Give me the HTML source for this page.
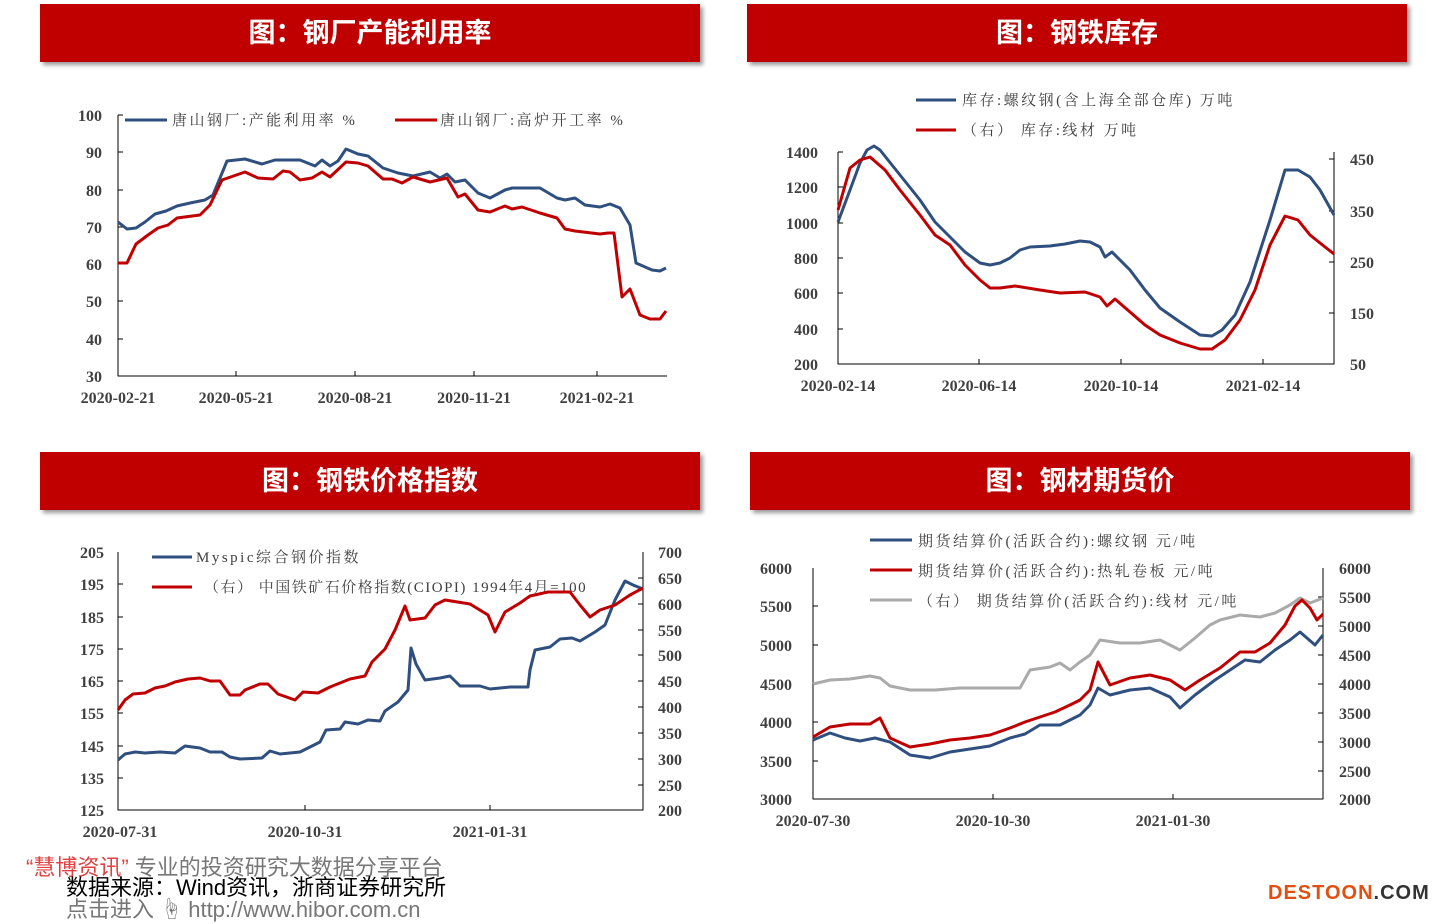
<!DOCTYPE html><html><head><meta charset="utf-8"><style>
body{margin:0;width:1440px;height:917px;background:#fff;position:relative;overflow:hidden;font-family:"Liberation Serif","Noto Serif CJK SC",serif}
.h{position:absolute;height:58px;background:#c00000;color:#fff;font:bold 27px "Liberation Sans","Noto Sans CJK SC",sans-serif;text-align:center;line-height:58px;box-shadow:3px 3px 4px #999}
svg{position:absolute;left:0;top:0}
text{font-family:"Liberation Serif","Noto Serif CJK SC",serif;fill:#404040}
.t text{font-weight:bold}
.lg text{letter-spacing:2.5px}
.f{position:absolute;font:22px "Liberation Sans","Noto Sans CJK SC",sans-serif;color:#000;white-space:nowrap}
</style></head><body>
<div class="h" style="left:40px;top:4px;width:660px">图：钢厂产能利用率</div>
<div class="h" style="left:747px;top:4px;width:660px">图：钢铁库存</div>
<div class="h" style="left:40px;top:452px;width:660px">图：钢铁价格指数</div>
<div class="h" style="left:750px;top:452px;width:660px">图：钢材期货价</div>
<svg width="1440" height="917" viewBox="0 0 1440 917" fill="none" stroke-width="3" stroke-linejoin="round">
<g stroke="#000" stroke-width="1">
<path d="M118 115V376H667M118 115h5M118 152h5M118 190h5M118 227h5M118 264h5M118 301h5M118 339h5M236 376v-5M355 376v-5M474 376v-5M597 376v-5"/>
<path d="M838 152V364H1334V152M838 152h5M838 187h5M838 223h5M838 258h5M838 293h5M838 329h5M1334 159h-5M1334 211h-5M1334 262h-5M1334 313h-5M979 364v-5M1121 364v-5M1263 364v-5"/>
<path d="M118 552V810H643V552M118 584h5M118 617h5M118 649h5M118 681h5M118 713h5M118 746h5M118 778h5M643 578h-5M643 604h-5M643 630h-5M643 655h-5M643 681h-5M643 707h-5M643 733h-5M643 759h-5M643 785h-5M305 810v-5M490 810v-5"/>
<path d="M813 568V799H1323V568M813 606h5M813 645h5M813 684h5M813 722h5M813 761h5M1323 597h-5M1323 626h-5M1323 655h-5M1323 684h-5M1323 713h-5M1323 742h-5M1323 771h-5M993 799v-5M1173 799v-5"/>
</g>
<g class="t" font-size="16" text-anchor="end" stroke="none">
<text x="102" y="121">100</text><text x="102" y="158">90</text><text x="102" y="196">80</text><text x="102" y="233">70</text><text x="102" y="270">60</text><text x="102" y="307">50</text><text x="102" y="345">40</text><text x="102" y="382">30</text>
<text x="818" y="158">1400</text><text x="818" y="193">1200</text><text x="818" y="229">1000</text><text x="818" y="264">800</text><text x="818" y="299">600</text><text x="818" y="335">400</text><text x="818" y="370">200</text>
<text x="104" y="558">205</text><text x="104" y="590">195</text><text x="104" y="623">185</text><text x="104" y="655">175</text><text x="104" y="687">165</text><text x="104" y="719">155</text><text x="104" y="752">145</text><text x="104" y="784">135</text><text x="104" y="816">125</text>
<text x="792" y="574">6000</text><text x="792" y="612">5500</text><text x="792" y="651">5000</text><text x="792" y="690">4500</text><text x="792" y="728">4000</text><text x="792" y="767">3500</text><text x="792" y="805">3000</text>
</g>
<g class="t" font-size="16" stroke="none">
<text x="1350" y="165">450</text><text x="1350" y="217">350</text><text x="1350" y="268">250</text><text x="1350" y="319">150</text><text x="1350" y="370">50</text>
<text x="658" y="558">700</text><text x="658" y="584">650</text><text x="658" y="610">600</text><text x="658" y="636">550</text><text x="658" y="661">500</text><text x="658" y="687">450</text><text x="658" y="713">400</text><text x="658" y="739">350</text><text x="658" y="765">300</text><text x="658" y="791">250</text><text x="658" y="816">200</text>
<text x="1339" y="574">6000</text><text x="1339" y="603">5500</text><text x="1339" y="632">5000</text><text x="1339" y="661">4500</text><text x="1339" y="690">4000</text><text x="1339" y="719">3500</text><text x="1339" y="748">3000</text><text x="1339" y="777">2500</text><text x="1339" y="805">2000</text>
</g>
<g class="t" font-size="16" text-anchor="middle" stroke="none">
<text x="118" y="403">2020-02-21</text><text x="236" y="403">2020-05-21</text><text x="355" y="403">2020-08-21</text><text x="474" y="403">2020-11-21</text><text x="597" y="403">2021-02-21</text>
<text x="838" y="391">2020-02-14</text><text x="979" y="391">2020-06-14</text><text x="1121" y="391">2020-10-14</text><text x="1263" y="391">2021-02-14</text>
<text x="120" y="837">2020-07-31</text><text x="305" y="837">2020-10-31</text><text x="490" y="837">2021-01-31</text>
<text x="813" y="826">2020-07-30</text><text x="993" y="826">2020-10-30</text><text x="1173" y="826">2021-01-30</text>
</g>
<g class="lg" font-size="15" stroke="none">
<text x="172" y="125">唐山钢厂:产能利用率 %</text><text x="440" y="125">唐山钢厂:高炉开工率 %</text>
<text x="962" y="105">库存:螺纹钢(含上海全部仓库) 万吨</text><text x="962" y="135">（右） 库存:线材 万吨</text>
<text x="196" y="562">Myspic综合钢价指数</text><text x="204" y="592" style="letter-spacing:1.5px">（右） 中国铁矿石价格指数(CIOPI) 1994年4月=100</text>
<text x="918" y="546">期货结算价(活跃合约):螺纹钢 元/吨</text><text x="918" y="576">期货结算价(活跃合约):热轧卷板 元/吨</text><text x="918" y="606">（右） 期货结算价(活跃合约):线材 元/吨</text>
</g>
<path stroke="#2f4f7f" d="M125 120h42M916 100h40M152 557h40M870 540h42"/>
<path stroke="#c00000" d="M395 120h42M916 130h40M152 587h40M870 570h42"/>
<path stroke="#aaa" d="M870 600h42"/>
<polyline stroke="#2f4f7f" points="118,222 127,229 136,228 145,222 155,214 166,211 177,206 190,203 205,200 213,195 227,161 245,159 262,164 275,160 300,160 315,166 322,160 330,166 338,161 346,149 358,154 368,156 383,168 398,173 413,176 430,172 440,178 447,174 455,182 465,180 478,193 490,198 505,190 512,188 540,188 557,198 565,200 575,198 585,205 600,207 610,204 620,208 630,225 636,263 652,270 660,271 666,268"/>
<polyline stroke="#c00000" points="118,263 127,263 136,244 148,235 158,228 168,225 177,218 200,215 210,205 222,180 245,172 258,178 273,179 283,171 290,172 300,180 312,178 322,172 330,177 346,162 358,163 368,166 383,179 392,179 402,183 413,177 430,182 447,178 458,197 465,194 478,210 490,212 505,206 512,209 522,207 540,213 557,218 565,229 575,231 600,234 608,233 614,233 622,297 630,289 640,315 650,319 660,319 666,311"/>
<polyline stroke="#2f4f7f" points="838,222 850,190 860,163 867,150 874,146 880,150 900,175 920,200 935,222 950,237 965,252 980,263 990,265 1000,263 1010,258 1020,250 1030,247 1050,246 1065,244 1080,241 1090,242 1100,247 1105,257 1112,252 1130,270 1145,290 1160,308 1180,322 1200,335 1212,336 1222,330 1235,315 1250,282 1270,220 1285,170 1298,170 1310,177 1320,190 1334,215"/>
<polyline stroke="#c00000" points="838,210 850,168 860,160 870,157 885,170 900,190 920,215 935,235 950,245 965,265 980,280 990,288 1000,288 1015,286 1040,290 1060,293 1085,292 1100,297 1107,306 1115,299 1130,312 1145,325 1160,335 1180,343 1200,349 1212,349 1225,340 1240,320 1255,290 1270,245 1285,216 1298,220 1310,235 1320,243 1334,254"/>
<polyline stroke="#2f4f7f" points="118,760 125,754 135,752 145,753 160,752 175,753 185,746 200,748 210,752 222,752 230,757 240,759 262,758 270,751 280,754 300,752 308,748 320,742 326,730 340,729 345,722 358,724 368,720 380,721 385,711 398,702 408,690 411,648 416,664 425,680 440,678 450,676 460,686 480,686 490,689 510,687 528,687 530,670 535,650 550,647 560,639 572,638 580,641 595,632 605,625 615,600 625,581 633,585 643,589"/>
<polyline stroke="#c00000" points="118,710 125,700 133,694 145,693 155,688 165,686 175,682 188,679 200,678 210,681 220,681 230,695 240,695 245,690 260,684 268,684 278,694 295,700 303,692 318,693 330,687 350,679 365,676 372,662 385,649 395,630 405,606 410,620 425,618 435,605 445,600 470,604 488,615 495,632 505,612 520,603 530,596 548,592 570,592 580,605 590,617 600,610 615,605 630,595 643,588"/>
<polyline stroke="#aaa" points="813,684 830,680 850,679 870,676 880,678 890,686 910,690 935,690 960,688 1000,688 1020,688 1030,670 1050,667 1060,663 1070,670 1080,662 1090,655 1100,640 1120,643 1140,643 1160,640 1180,650 1195,638 1210,625 1220,620 1240,615 1260,617 1275,613 1290,605 1300,598 1310,603 1323,598"/>
<polyline stroke="#2f4f7f" points="813,740 830,733 845,738 860,741 875,738 890,742 910,755 930,758 950,752 970,749 990,746 1010,738 1025,734 1040,725 1060,725 1080,715 1090,705 1098,688 1110,695 1130,690 1150,688 1170,697 1180,708 1195,695 1215,680 1230,670 1245,660 1260,662 1275,650 1290,640 1300,632 1315,645 1323,635"/>
<polyline stroke="#c00000" points="813,737 830,727 850,724 870,724 880,718 890,738 910,747 930,744 950,740 970,738 990,735 1010,728 1025,722 1040,717 1055,712 1070,705 1080,700 1090,690 1098,662 1110,685 1130,678 1150,675 1170,680 1185,690 1200,680 1220,668 1240,652 1255,652 1270,643 1285,625 1295,606 1302,600 1310,608 1317,620 1323,614"/>
</svg>
<div class="f" style="left:26px;top:850px;color:#777"><span style="color:#e04040">“慧博资讯”</span> 专业的投资研究大数据分享平台</div>
<div class="f" style="left:66px;top:870px">数据来源：Wind资讯，浙商证券研究所</div>
<div class="f" style="left:66px;top:892px;color:#777">点击进入 ☝ http://www.hibor.com.cn</div>
<div class="f" style="left:1268px;top:882px;font:bold 20px 'Liberation Sans',sans-serif;color:#e05010;letter-spacing:1px">DESTOON<span style="color:#333">.COM</span></div>
</body></html>
